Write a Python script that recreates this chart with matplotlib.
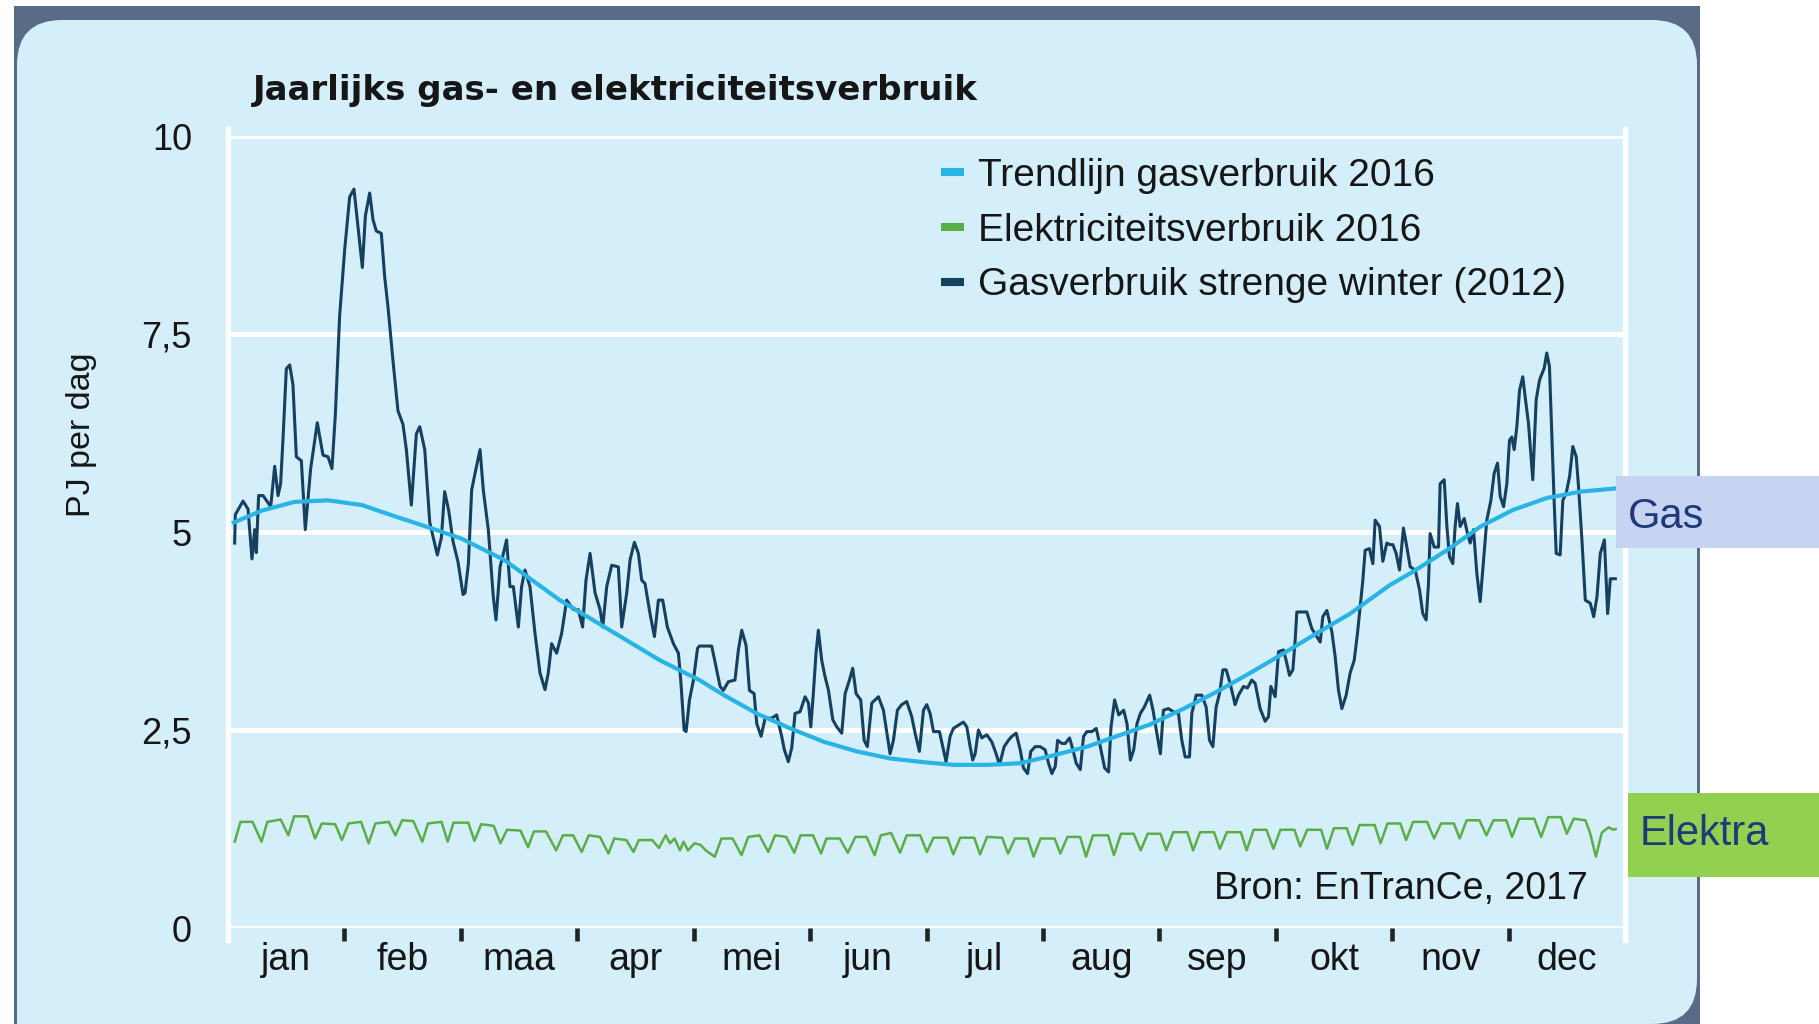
import matplotlib
matplotlib.use("Agg")
import matplotlib.pyplot as plt
import matplotlib.patches as mpatches
from matplotlib.lines import Line2D
from matplotlib.transforms import IdentityTransform

plt.rcParams["font.family"] = ["Liberation Sans", "DejaVu Sans"]

# ---- data (x in months since 1 Jan, y in PJ per day) ----
months = ["jan", "feb", "maa", "apr", "mei", "jun", "jul", "aug", "sep", "okt", "nov", "dec"]
y_ticks = [0, 2.5, 5, 7.5, 10]
y_tick_labels = ["0", "2,5", "5", "7,5", "10"]

# Gasverbruik strenge winter (2012)
gas_month = [
    0.057, 0.063, 0.129, 0.172, 0.206, 0.229, 0.243, 0.263, 0.301, 0.367,
    0.401, 0.430, 0.452, 0.473, 0.501, 0.530, 0.558, 0.587, 0.630, 0.664,
    0.710, 0.767, 0.816, 0.859, 0.893, 0.922, 0.959, 1.002, 1.045, 1.082,
    1.117, 1.154, 1.180, 1.217, 1.246, 1.274, 1.317, 1.346, 1.375, 1.418,
    1.460, 1.503, 1.532, 1.575, 1.618, 1.647, 1.690, 1.733, 1.798, 1.833,
    1.861, 1.896, 1.933, 1.976, 2.019,
    2.036, 2.065, 2.093, 2.122, 2.165, 2.193, 2.236, 2.279, 2.302, 2.337,
    2.359, 2.393, 2.422, 2.451, 2.494, 2.522, 2.551, 2.594, 2.637, 2.680,
    2.723, 2.751, 2.780, 2.823, 2.866, 2.909, 2.966, 3.009, 3.046, 3.075,
    3.110, 3.153, 3.196, 3.219, 3.253, 3.296, 3.353, 3.382, 3.425, 3.454,
    3.491, 3.525, 3.554, 3.582, 3.625, 3.663, 3.697, 3.734, 3.774, 3.826,
    3.869, 3.889, 3.918, 3.935, 3.964, 3.998, 4.033,
    4.049, 4.155, 4.192, 4.227, 4.255, 4.298, 4.355, 4.384, 4.413, 4.450,
    4.479, 4.519, 4.542, 4.579, 4.614, 4.671, 4.713, 4.756, 4.779, 4.813,
    4.842, 4.871, 4.914, 4.957, 4.986, 5.006, 5.028, 5.051, 5.071, 5.100,
    5.129, 5.158, 5.195, 5.229, 5.272, 5.301, 5.338, 5.366, 5.395, 5.435,
    5.464, 5.492, 5.530, 5.587, 5.630, 5.664, 5.687, 5.716, 5.750, 5.787,
    5.830, 5.873, 5.902, 5.939,
    5.974, 6.002, 6.031, 6.060, 6.111, 6.145, 6.168, 6.203, 6.231, 6.274,
    6.317, 6.346, 6.375, 6.397, 6.418, 6.446, 6.475, 6.518, 6.561, 6.598,
    6.627, 6.667, 6.704, 6.733, 6.770, 6.805, 6.833, 6.868, 6.896, 6.934,
    6.976, 7.019, 7.048, 7.077, 7.106, 7.126, 7.163, 7.192, 7.229, 7.258,
    7.286, 7.321, 7.349, 7.378, 7.421, 7.458, 7.493, 7.530, 7.564, 7.585,
    7.616, 7.651, 7.694, 7.722, 7.751, 7.780, 7.808, 7.837, 7.871, 7.917,
    7.946, 7.974, 8.009,
    8.035, 8.078, 8.121, 8.164, 8.193, 8.222, 8.259, 8.279, 8.317, 8.365,
    8.402, 8.431, 8.460, 8.488, 8.517, 8.546, 8.574, 8.608, 8.651, 8.680,
    8.723, 8.757, 8.794, 8.823, 8.866, 8.909, 8.938, 8.958, 8.995, 9.024,
    9.067, 9.089, 9.118, 9.147, 9.167, 9.181, 9.267, 9.310, 9.353, 9.382,
    9.404, 9.439, 9.482, 9.510, 9.539, 9.568, 9.605, 9.639, 9.674, 9.702,
    9.725, 9.748, 9.768, 9.805, 9.834, 9.854, 9.891, 9.920, 9.954, 9.983,
    10.006, 10.034, 10.063, 10.097, 10.126, 10.155, 10.198, 10.235, 10.263, 10.292,
    10.312, 10.326, 10.361, 10.398, 10.412, 10.447, 10.470, 10.492, 10.521, 10.541,
    10.561, 10.584, 10.619, 10.647, 10.670, 10.699, 10.727, 10.756, 10.785, 10.813,
    10.848, 10.876, 10.905, 10.928, 10.957, 10.985, 11.008, 11.028, 11.048, 11.071,
    11.094, 11.122, 11.142, 11.171, 11.208, 11.237, 11.266, 11.306, 11.328, 11.351,
    11.371, 11.391, 11.409, 11.443, 11.466, 11.495, 11.524, 11.552, 11.581, 11.601,
    11.630, 11.659, 11.702, 11.731, 11.759, 11.788, 11.823, 11.851, 11.874, 11.917,
]
gas_pj = [
    4.86, 5.22, 5.39, 5.29, 4.66, 5.03, 4.74, 5.46, 5.46, 5.32,
    5.83, 5.46, 5.61, 6.19, 7.06, 7.11, 6.86, 5.95, 5.90, 5.03,
    5.80, 6.38, 5.97, 5.95, 5.80, 6.48, 7.73, 8.56, 9.23, 9.33,
    8.85, 8.34, 8.99, 9.28, 8.94, 8.80, 8.77, 8.22, 7.83, 7.15,
    6.53, 6.36, 6.04, 5.34, 6.24, 6.33, 6.04, 5.12, 4.71, 4.93,
    5.51, 5.27, 4.88, 4.62, 4.21,
    4.23, 4.60, 5.53, 5.74, 6.04, 5.53, 5.03, 4.18, 3.89, 4.56,
    4.69, 4.90, 4.31, 4.31, 3.80, 4.31, 4.52, 4.31, 3.72, 3.22,
    3.01, 3.22, 3.59, 3.47, 3.72, 4.14, 4.02, 4.02, 3.80, 4.39,
    4.73, 4.23, 4.02, 3.80, 4.31, 4.58, 4.56, 3.80, 4.23, 4.65,
    4.87, 4.73, 4.39, 4.35, 3.97, 3.68, 4.14, 4.14, 3.80, 3.59,
    3.47, 3.13, 2.50, 2.48, 2.88, 3.13, 3.53,
    3.56, 3.56, 3.30, 3.05, 3.00, 3.11, 3.13, 3.51, 3.76, 3.57,
    3.00, 2.96, 2.58, 2.42, 2.65, 2.65, 2.69, 2.42, 2.25, 2.10,
    2.27, 2.71, 2.73, 2.92, 2.84, 2.54, 2.96, 3.47, 3.76, 3.38,
    3.17, 3.00, 2.63, 2.54, 2.46, 2.96, 3.13, 3.28, 2.96, 2.88,
    2.37, 2.29, 2.84, 2.92, 2.75, 2.42, 2.20, 2.37, 2.75, 2.82,
    2.86, 2.67, 2.46, 2.23,
    2.75, 2.82, 2.71, 2.48, 2.48, 2.25, 2.10, 2.42, 2.52, 2.56,
    2.60, 2.54, 2.29, 2.12, 2.20, 2.50, 2.40, 2.44, 2.35, 2.20,
    2.06, 2.29, 2.37, 2.42, 2.46, 2.25, 2.02, 1.95, 2.23, 2.29,
    2.29, 2.25, 2.08, 1.95, 2.04, 2.37, 2.33, 2.33, 2.40, 2.25,
    2.08, 2.00, 2.42, 2.48, 2.48, 2.52, 2.29, 2.02, 1.97, 2.54,
    2.88, 2.69, 2.75, 2.58, 2.12, 2.25, 2.58, 2.71, 2.79, 2.94,
    2.75, 2.50, 2.20,
    2.75, 2.77, 2.73, 2.71, 2.37, 2.16, 2.16, 2.71, 2.94, 2.94,
    2.79, 2.37, 2.29, 2.79, 2.96, 3.26, 3.26, 3.09, 2.82, 2.94,
    3.05, 3.03, 3.13, 3.09, 2.77, 2.61, 2.67, 3.05, 2.92, 3.49,
    3.51, 3.38, 3.19, 3.26, 3.64, 3.99, 3.99, 3.78, 3.68, 3.61,
    3.93, 4.01, 3.74, 3.43, 3.00, 2.77, 2.94, 3.22, 3.38, 3.72,
    4.06, 4.39, 4.77, 4.79, 4.60, 5.15, 5.07, 4.63, 4.86, 4.84,
    4.84, 4.73, 4.52, 5.05, 4.81, 4.56, 4.52, 4.27, 3.97, 3.89,
    4.35, 4.98, 4.81, 4.81, 5.61, 5.66, 5.07, 4.69, 4.60, 5.07,
    5.36, 5.07, 5.17, 4.98, 4.86, 5.03, 4.48, 4.12, 4.65, 5.15,
    5.40, 5.74, 5.87, 5.45, 5.32, 5.61, 6.16, 6.20, 6.04, 6.33,
    6.79, 6.96, 6.71, 6.37, 5.66, 6.67, 6.92, 7.07, 7.26, 7.09,
    6.25, 5.40, 4.73, 4.71, 5.40, 5.49, 5.70, 6.08, 5.95, 5.57,
    4.90, 4.14, 4.10, 3.93, 4.18, 4.73, 4.90, 3.97, 4.41, 4.41,
]

# Trendlijn gasverbruik 2016
trend_month = [0.05, 0.29, 0.57, 0.86, 1.15, 1.43, 1.72, 2.00, 2.37, 2.85,
               3.28, 3.71, 4.05, 4.26, 4.54, 4.83, 5.12, 5.40, 5.69, 6.00,
               6.23, 6.52, 6.80, 7.09, 7.38, 7.67, 7.92, 8.21, 8.49, 8.78,
               9.07, 9.35, 9.64, 9.98, 10.18, 10.47, 10.76, 11.04, 11.33, 11.62,
               11.92]
trend_pj = [5.12, 5.27, 5.38, 5.40, 5.34, 5.20, 5.06, 4.92, 4.65, 4.14,
            3.76, 3.38, 3.13, 2.94, 2.71, 2.52, 2.35, 2.23, 2.14, 2.09,
            2.06, 2.06, 2.08, 2.18, 2.29, 2.44, 2.57, 2.77, 2.98, 3.22,
            3.47, 3.72, 3.97, 4.33, 4.50, 4.77, 5.07, 5.28, 5.43, 5.51,
            5.55]

# Elektriciteitsverbruik 2016
elec_month = [
    0.058, 0.107, 0.211, 0.288, 0.338, 0.453, 0.518, 0.568, 0.683, 0.748,
    0.806, 0.921, 0.978, 1.036, 1.143, 1.208, 1.266, 1.381, 1.438, 1.496,
    1.592, 1.669, 1.718, 1.834, 1.887, 1.937, 2.064, 2.117, 2.175, 2.282,
    2.340, 2.397, 2.512, 2.578, 2.628, 2.731, 2.819, 2.877, 2.965, 3.038,
    3.099, 3.195, 3.268, 3.318, 3.422, 3.483, 3.529, 3.644, 3.702, 3.759,
    3.797, 3.836, 3.882, 3.913, 3.951, 4.008, 4.058, 4.104, 4.181, 4.239,
    4.334, 4.411, 4.469, 4.565, 4.641, 4.699, 4.795, 4.864, 4.918, 5.025,
    5.094, 5.140, 5.255, 5.324, 5.389, 5.485, 5.554, 5.608, 5.696, 5.773,
    5.830, 5.946, 6.003,
    6.06, 6.18, 6.23, 6.29, 6.41, 6.46, 6.52, 6.65, 6.70, 6.76, 6.87, 6.92,
    6.98, 7.10, 7.15, 7.21, 7.32, 7.37, 7.43, 7.56, 7.61, 7.67, 7.78, 7.84,
    7.90, 8.01, 8.06, 8.12, 8.24, 8.29, 8.35, 8.47, 8.52, 8.58, 8.70, 8.75,
    8.81, 8.92, 8.98, 9.04, 9.16, 9.21, 9.27, 9.39, 9.44, 9.50, 9.61, 9.66,
    9.72, 9.85, 9.90, 9.96, 10.07, 10.12, 10.18, 10.30, 10.36, 10.42, 10.53, 10.58,
    10.64, 10.75, 10.81, 10.87, 10.98, 11.03, 11.09, 11.22, 11.28, 11.34, 11.45, 11.50,
    11.56, 11.66, 11.70, 11.75, 11.80, 11.83, 11.86, 11.90, 11.92,
]
elec_pj = [
    1.09, 1.34, 1.34, 1.09, 1.34, 1.37, 1.17, 1.41, 1.41, 1.13,
    1.32, 1.31, 1.11, 1.32, 1.34, 1.07, 1.32, 1.34, 1.17, 1.36,
    1.35, 1.09, 1.32, 1.34, 1.09, 1.33, 1.33, 1.10, 1.31, 1.29,
    1.07, 1.24, 1.23, 1.02, 1.22, 1.22, 0.98, 1.17, 1.17, 0.96,
    1.17, 1.15, 0.94, 1.13, 1.11, 0.96, 1.11, 1.11, 1.01, 1.17,
    1.07, 1.13, 0.98, 1.09, 0.98, 1.07, 1.05, 0.98, 0.90, 1.13,
    1.13, 0.92, 1.15, 1.17, 0.96, 1.17, 1.15, 0.95, 1.17, 1.17,
    0.94, 1.13, 1.13, 0.95, 1.15, 1.15, 0.92, 1.17, 1.20, 0.95,
    1.17, 1.17, 0.96,
    1.14, 1.14, 0.93, 1.14, 1.14, 0.93, 1.15, 1.14, 0.94, 1.13, 1.13, 0.90,
    1.13, 1.13, 0.94, 1.15, 1.15, 0.90, 1.17, 1.17, 0.92, 1.19, 1.19, 0.98,
    1.19, 1.19, 0.98, 1.21, 1.21, 0.98, 1.21, 1.21, 1.00, 1.21, 1.21, 0.98,
    1.24, 1.24, 1.00, 1.24, 1.24, 1.03, 1.24, 1.24, 1.00, 1.26, 1.26, 1.05,
    1.30, 1.30, 1.07, 1.32, 1.32, 1.11, 1.34, 1.34, 1.13, 1.32, 1.32, 1.13,
    1.36, 1.36, 1.17, 1.36, 1.36, 1.15, 1.38, 1.38, 1.15, 1.40, 1.40, 1.19,
    1.38, 1.36, 1.20, 0.90, 1.20, 1.24, 1.27, 1.24, 1.25,
]

# ---- colours ----
c_frame = "#5a6b87"
c_panel = "#d4eefa"
c_trend = "#29b4e6"
c_elec = "#5aae48"
c_gas = "#15405f"
c_text = "#161616"

W, H = 1819, 1024
fig = plt.figure(figsize=(W / 100, H / 100), dpi=100)
fig.patch.set_facecolor("white")

# dark frame + rounded light-blue panel (pixel coordinates)
px = IdentityTransform()
fig.add_artist(mpatches.Rectangle((14, 0), 1686, 1018, transform=px,
                                  facecolor=c_frame, edgecolor="none", zorder=0))
fig.add_artist(mpatches.FancyBboxPatch((17, 0), 1680, 1004, transform=px,
                                       boxstyle="round,pad=0,rounding_size=45",
                                       facecolor=c_panel, edgecolor="none", zorder=0))
# bottom-left corner of the panel is square
fig.add_artist(mpatches.Rectangle((17, 0), 60, 60, transform=px,
                                  facecolor=c_panel, edgecolor="none", zorder=0))

ax = fig.add_axes([228 / W, 1 - 928 / H, 1397 / W, 792 / H])
ax.patch.set_alpha(0)
for s in ax.spines.values():
    s.set_visible(False)
ax.set_xlim(0, 12)
ax.set_ylim(0, 10)

# white grid + vertical borders
for y in y_ticks:
    ax.axhline(y, color="white", lw=3.6, zorder=1)
ax.axvline(0, ymin=-0.015, ymax=1.009, color="white", lw=3.8, zorder=1, clip_on=False)
ax.axvline(12, ymin=-0.015, ymax=1.009, color="white", lw=3.8, zorder=1, clip_on=False)

# series
ax.plot(elec_month, elec_pj, color=c_elec, lw=1.8, zorder=3)
ax.plot(gas_month, gas_pj, color=c_gas, lw=2.2, zorder=4)
ax.plot(trend_month, trend_pj, color=c_trend, lw=3.0, zorder=5)

# axes ticks
ax.set_yticks(y_ticks)
ax.set_yticklabels(y_tick_labels)
ax.tick_params(axis="y", length=0, pad=26, labelsize=26, labelcolor=c_text)
ax.set_xticks(range(1, 12))
ax.set_xticklabels([])
ax.tick_params(axis="x", which="major", length=9.4, width=3.3, color="#222222", direction="out")
ax.set_xticks([i + 0.5 for i in range(12)], minor=True)
ax.set_xticklabels(months, minor=True)
ax.tick_params(axis="x", which="minor", length=0, pad=10, labelsize=27, labelcolor=c_text)

# legend
handles = [Line2D([], [], color=c, lw=5.8, solid_capstyle="butt") for c in (c_trend, c_elec, c_gas)]
labels = ["Trendlijn gasverbruik 2016", "Elektriciteitsverbruik 2016", "Gasverbruik strenge winter (2012)"]
leg = ax.legend(handles, labels, loc="upper left", bbox_to_anchor=(941 / W, 1 - 158 / H),
                bbox_transform=fig.transFigure, frameon=False, fontsize=28,
                handlelength=0.6, handletextpad=0.36, labelspacing=0.48,
                borderpad=0, borderaxespad=0)
for t in leg.get_texts():
    t.set_color(c_text)

# texts
fig.text(253 / W, 1 - 100 / H, "Jaarlijks gas- en elektriciteitsverbruik",
         family="DejaVu Sans", fontweight="bold", fontsize=24.5, color=c_text, va="baseline")
fig.text(81 / W, 1 - 435 / H, "PJ per dag", rotation=90, ha="center", va="center",
         fontsize=24.5, color=c_text)
fig.text(1588 / W, 1 - 899 / H, "Bron: EnTranCe, 2017", ha="right", va="baseline",
         fontsize=27, color=c_text)

# side labels
fig.add_artist(mpatches.Rectangle((1616, 1024 - 548), 203, 72, transform=px,
                                  facecolor="#c6d4f1", edgecolor="none", zorder=6))
fig.add_artist(mpatches.Rectangle((1628, 1024 - 877), 191, 84, transform=px,
                                  facecolor="#92d050", edgecolor="none", zorder=6))
fig.text(1628 / W, 1 - 528 / H, "Gas", fontsize=30, color="#1f3a7a", va="baseline", zorder=7)
fig.text(1640 / W, 1 - 845 / H, "Elektra", fontsize=30, color="#1f3a7a", va="baseline", zorder=7)

fig.savefig("out.png", dpi=100, facecolor="white")
